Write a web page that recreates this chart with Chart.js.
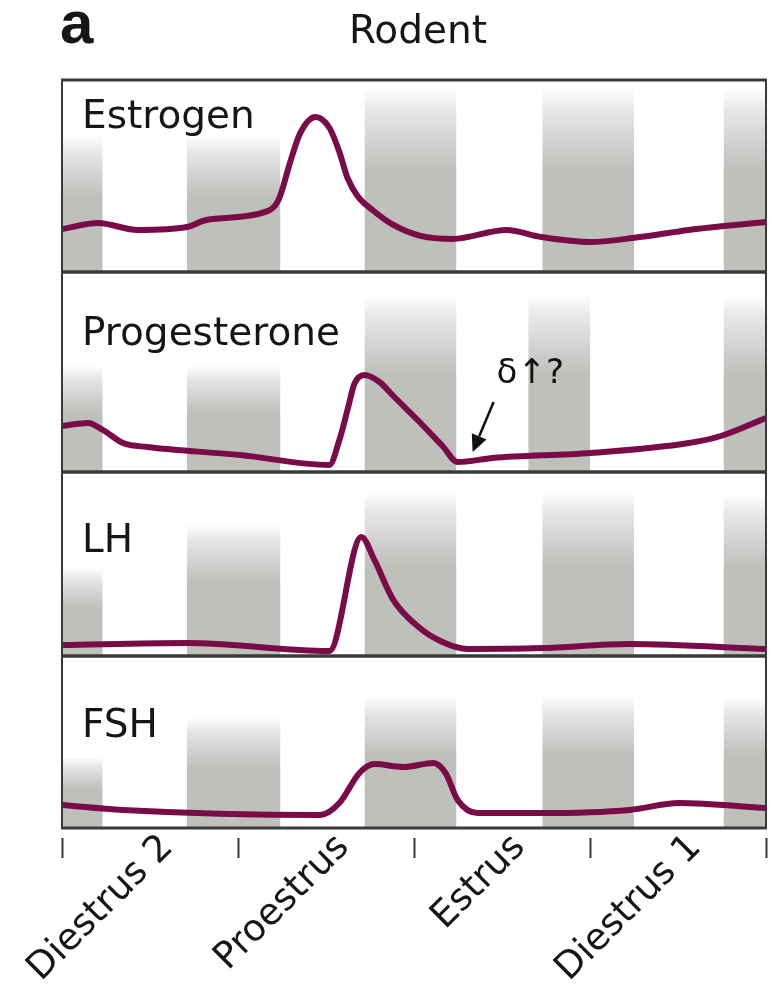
<!DOCTYPE html>
<html><head><meta charset="utf-8">
<script src="https://cdn.jsdelivr.net/npm/chart.js@4.4.1/dist/chart.umd.min.js"></script>
<style>
html,body{margin:0;padding:0;background:#fff;}
#wrap{position:relative;width:770px;height:987px;overflow:hidden;background:#fff;}
#wrap canvas{position:absolute;left:0;}
</style></head><body>
<div id="wrap"></div>
<script>
// ---------- data ----------
const stages = ['Diestrus 2', 'Proestrus', 'Estrus', 'Diestrus 1'];
const hormones = ['Estrogen', 'Progesterone', 'LH', 'FSH'];
const figureLetter = 'a';
const figureTitle = 'Rodent';
const annotationText = 'δ↑?';

const estrogenX = [0, 0.205, 0.43, 0.71, 0.82, 1.155, 1.23, 1.30, 1.354, 1.44, 1.52, 1.576, 1.622, 1.679, 1.764, 1.883, 2.037, 2.219, 2.526, 2.725, 3.004, 3.283, 3.562, 4.0];
const estrogenY = [22.4, 25.5, 21.9, 23.4, 27.1, 31.3, 37.5, 58.3, 72.4, 80.7, 75, 62.5, 49, 39.6, 32.3, 24.5, 18.8, 17.2, 21.9, 18.2, 15.6, 18.2, 21.9, 26];

const progesteroneX = [0, 0.148, 0.233, 0.347, 0.484, 1.013, 1.519, 1.576, 1.622, 1.661, 1.718, 1.804, 1.883, 2.026, 2.162, 2.248, 2.447, 3.004, 3.562, 3.744, 4.0];
const progesteroneY = [23, 24.5, 21, 14.5, 12.5, 8.5, 3.5, 16, 31, 44, 48.5, 45, 38, 25.5, 13, 5, 7, 9.5, 14.5, 18, 27];

const lhX = [0, 0.711, 1.519, 1.701, 1.775, 1.883, 2.026, 2.162, 2.304, 2.725, 3.226, 4.0];
const lhY = [6, 7.1, 2.7, 64.7, 52.2, 30.4, 15.8, 7.6, 3.8, 4.3, 6.5, 3.8];

const fshX = [0, 0.347, 1.468, 1.576, 1.69, 1.775, 1.94, 2.111, 2.179, 2.248, 2.361, 2.725, 3.226, 3.505, 4.0];
const fshY = [13.4, 10.5, 7.6, 14.5, 32, 37.2, 35.5, 37.8, 32, 16.3, 8.7, 8.7, 10.5, 14.5, 11.6];

// shaded (dark-phase) bands: start, end on the stage axis, and top level in each panel
const bandStart = [0, 0.71, 1.72, 2.73, 3.76];
const bandEnd = [0.23, 1.24, 2.24, 3.25, 4.0];
const progBandStart = [0, 0.71, 1.72, 2.65, 3.76];
const progBandEnd = [0.23, 1.24, 2.24, 3.0, 4.0];
const estrogenBandTop = [71, 71, 96, 96, 96];
const progesteroneBandTop = [53.5, 53.5, 88.5, 88.5, 88.5];
const lhBandTop = [48, 72, 89, 89, 88];
const fshBandTop = [41, 64.5, 77, 77, 76];

// annotation arrow tip (stage axis, panel level)
const annotationTipX = 2.333;
const annotationTipY = 10;

// ---------- layout / style ----------
const panelTops = [80, 272, 472, 656];
const panelBottoms = [272, 472, 656, 828];
const LINE_COLOR = '#7a0b49';
const GRAY = 'rgb(190,192,188)';
const FRAME = '#3a3a3a';
const TEXT = '#161616';
const FONT = "'DejaVu Sans', sans-serif";
const labelBaselines = [48, 73, 80, 81];
const LABEL_SHIFT = 0.6;

const panels = [
  {x: estrogenX, y: estrogenY, bs: bandStart, be: bandEnd, bt: estrogenBandTop},
  {x: progesteroneX, y: progesteroneY, bs: progBandStart, be: progBandEnd, bt: progesteroneBandTop},
  {x: lhX, y: lhY, bs: bandStart, be: bandEnd, bt: lhBandTop},
  {x: fshX, y: fshY, bs: bandStart, be: bandEnd, bt: fshBandTop}
];

const bandsPlugin = {
  id: 'bands',
  beforeDatasetsDraw(chart, args, opts) {
    const p = opts.panel;
    const {ctx, chartArea} = chart;
    const xs = chart.scales.x, ys = chart.scales.y;
    ctx.save();
    for (let i = 0; i < p.bs.length; i++) {
      const x0 = xs.getPixelForValue(p.bs[i]);
      const x1 = xs.getPixelForValue(p.be[i]);
      const yt = ys.getPixelForValue(p.bt[i]);
      const yb = chartArea.bottom;
      const g = ctx.createLinearGradient(0, yt, 0, yt + 0.45 * (yb - yt));
      g.addColorStop(0, 'rgba(190,192,188,0)');
      g.addColorStop(0.25, 'rgba(190,192,188,0.35)');
      g.addColorStop(1, GRAY);
      ctx.fillStyle = g;
      ctx.fillRect(x0, yt, x1 - x0, yb - yt);
    }
    ctx.restore();
  }
};

const framePlugin = {
  id: 'frame',
  afterDatasetsDraw(chart) {
    const {ctx, chartArea: a} = chart;
    ctx.save();
    ctx.strokeStyle = FRAME;
    ctx.lineWidth = 3;
    ctx.beginPath();
    ctx.moveTo(a.left - 1, a.top); ctx.lineTo(a.right + 1, a.top);
    ctx.moveTo(a.left - 1, a.bottom); ctx.lineTo(a.right + 1, a.bottom);
    ctx.stroke();
    ctx.lineWidth = 2;
    ctx.beginPath();
    ctx.moveTo(a.left, a.top); ctx.lineTo(a.left, a.bottom);
    ctx.moveTo(a.right, a.top); ctx.lineTo(a.right, a.bottom);
    ctx.stroke();
    ctx.restore();
  }
};

const textPlugin = {
  id: 'texts',
  afterDraw(chart, args, opts) {
    const {ctx, chartArea: a} = chart;
    const idx = opts.index;
    ctx.save();
    ctx.fillStyle = TEXT;
    ctx.textBaseline = 'alphabetic';
    ctx.textAlign = 'left';
    ctx.font = '39px ' + FONT;
    ctx.fillText(hormones[idx], a.left + 20, a.top + labelBaselines[idx]);
    if (idx === 0) {
      ctx.font = "bold 60px 'Liberation Sans', sans-serif";
      ctx.fillText(figureLetter, 60, 43);
      ctx.font = '39px ' + FONT;
      ctx.textAlign = 'center';
      ctx.fillText(figureTitle, 418, 43);
    }
    if (idx === 1) {
      const xs = chart.scales.x, ys = chart.scales.y;
      const tx = xs.getPixelForValue(annotationTipX);
      const ty = ys.getPixelForValue(annotationTipY);
      const sx = tx + 21, sy = ty - 50;
      ctx.strokeStyle = '#111';
      ctx.fillStyle = '#111';
      ctx.lineWidth = 2.5;
      const ang = Math.atan2(ty - sy, tx - sx);
      const hl = 17, hw = 8;
      const bx = tx - hl * Math.cos(ang), by = ty - hl * Math.sin(ang);
      ctx.beginPath(); ctx.moveTo(sx, sy); ctx.lineTo(bx, by); ctx.stroke();
      ctx.beginPath();
      ctx.moveTo(tx, ty);
      ctx.lineTo(bx + hw * Math.sin(ang), by - hw * Math.cos(ang));
      ctx.lineTo(bx - hw * Math.sin(ang), by + hw * Math.cos(ang));
      ctx.closePath(); ctx.fill();
      ctx.font = '34px ' + FONT;
      ctx.textAlign = 'left';
      ctx.fillText(annotationText, tx + 24, ty - 69);
    }
    ctx.restore();
  }
};

const wrap = document.getElementById('wrap');
panels.forEach((p, idx) => {
  const isLast = idx === panels.length - 1;
  const canvasTop = idx === 0 ? 0 : panelTops[idx] - 4;
  const canvasBottom = isLast ? 987 : panelBottoms[idx] + 4;
  const c = document.createElement('canvas');
  c.width = 770; c.height = canvasBottom - canvasTop;
  c.style.top = canvasTop + 'px';
  c.style.width = '770px'; c.style.height = (canvasBottom - canvasTop) + 'px';
  wrap.appendChild(c);
  const xAxis = {
    type: 'linear', min: 0, max: 4, display: isLast
  };
  if (isLast) {
    Object.assign(xAxis, {
      afterBuildTicks: (s) => {
        const t = [];
        for (let i = 0; i <= stages.length; i++) {
          t.push({value: i});
          if (i < stages.length) t.push({value: i + LABEL_SHIFT});
        }
        s.ticks = t;
      },
      afterFit: (s) => {
        s.height = 987 - panelBottoms[idx];
        s.paddingLeft = 0; s.paddingRight = 0; s.paddingTop = 0; s.paddingBottom = 0;
      },
      grid: {
        drawOnChartArea: false, drawTicks: true, tickLength: 30, tickWidth: 2,
        tickColor: (ctx) => (ctx.tick && Number.isInteger(ctx.tick.value)) ? FRAME : 'rgba(0,0,0,0)',
        tickBorderDash: [0, 10, 20, 200]
      },
      border: {display: false},
      ticks: {
        autoSkip: false, minRotation: 45, maxRotation: 45, padding: -32,
        color: TEXT, font: {family: FONT, size: 37},
        callback: (v) => Number.isInteger(v) ? '' : stages[Math.floor(v)]
      }
    });
  }
  new Chart(c, {
    type: 'line',
    data: {
      datasets: [{
        data: p.x.map((x, i) => ({x, y: p.y[i]})),
        borderColor: LINE_COLOR, borderWidth: 6, pointRadius: 0,
        cubicInterpolationMode: 'monotone', fill: false, borderCapStyle: 'round', borderJoinStyle: 'round'
      }]
    },
    options: {
      responsive: false, animation: false, events: [], devicePixelRatio: 1,
      layout: {padding: {left: 62, right: 4, top: panelTops[idx] - canvasTop, bottom: isLast ? 0 : 4}},
      plugins: {
        legend: {display: false}, tooltip: {enabled: false},
        bands: {panel: p}, texts: {index: idx}
      },
      scales: {
        x: xAxis,
        y: {min: 0, max: 100, display: false}
      }
    },
    plugins: [bandsPlugin, framePlugin, textPlugin]
  });
});
</script>
</body></html>
